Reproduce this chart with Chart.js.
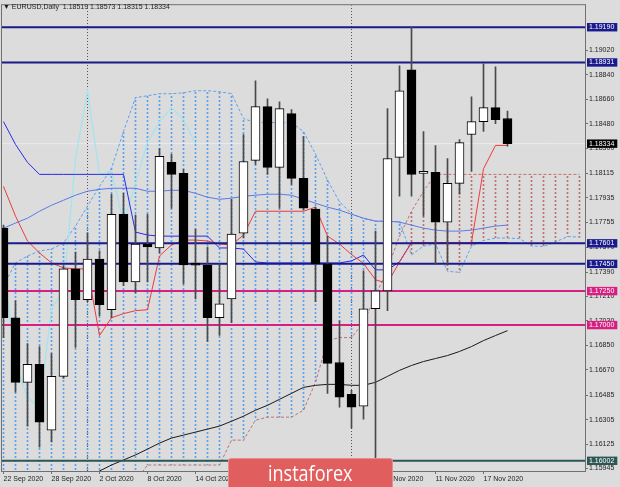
<!DOCTYPE html>
<html>
<head>
<meta charset="utf-8">
<script src="https://cdn.jsdelivr.net/npm/chart.js@4.4.0/dist/chart.umd.min.js"></script>
<style>
    html, body { margin: 0; padding: 0; background: #dcdcdc; }
    #wrap { position: relative; width: 620px; height: 487px; overflow: hidden; }
    #header {
        position: absolute; left: 3px; top: 3px;
        font: 7px "Liberation Sans", Arial, sans-serif; color: #1e1e1e;
        white-space: pre; line-height: 8px;
    }
    #banner {
        position: absolute; left: 228px; top: 458px; width: 165px; height: 34px;
        background: #e05e5e; border: 1px solid #eb8c8c; border-radius: 3px;
        box-sizing: border-box; color: #fff; text-align: center;
        font: 21px "Open Sans", sans-serif; line-height: 28px;
    }
    #banner span { display: inline-block; transform: scaleX(0.86); }
</style>
</head>
<body>
<div id="wrap">
    <canvas id="priceChart" width="620" height="487"></canvas>
    <div id="header">▼ EURUSD,Daily  1.18519 1.18573 1.18315 1.18334</div>
    <div id="banner"><span>instaforex</span></div>
</div>
<script>
// Daily bars, 22 Sep .. 19 Nov 2020 (index = bar number)
const dateTicks = [0, 4, 8, 12, 16, 20, 24, 28, 32, 36, 40];
const dateLabels = ['22 Sep 2020', '28 Sep 2020', '2 Oct 2020', '8 Oct 2020', '14 Oct 2020', '20 Oct 2020',
    '26 Oct 2020', '30 Oct 2020', '5 Nov 2020', '11 Nov 2020', '17 Nov 2020'];

const opens = [1.17713, 1.17054, 1.16579, 1.16711, 1.16228, 1.16623, 1.17413, 1.17186, 1.17486, 1.17113,
    1.17815, 1.17318, 1.17596, 1.17567, 1.18196, 1.18116, 1.17455, 1.17442, 1.17054, 1.17193,
    1.17676, 1.18211, 1.18606, 1.18159, 1.18555, 1.18079, 1.17852, 1.17450, 1.16725, 1.16491,
    1.16403, 1.17120, 1.17252, 1.18233, 1.18877, 1.18116, 1.18123, 1.17757, 1.18042, 1.18401,
    1.18496, 1.18599, 1.18519];
const highs = [1.17735, 1.17179, 1.16864, 1.16842, 1.16791, 1.17435, 1.17537, 1.17676, 1.17545, 1.17962,
    1.17969, 1.17808, 1.17815, 1.18298, 1.18255, 1.18145, 1.17706, 1.17574, 1.17450, 1.17925,
    1.18401, 1.18796, 1.18664, 1.18642, 1.18584, 1.18386, 1.17867, 1.17654, 1.17032, 1.16520,
    1.17398, 1.17691, 1.18591, 1.18906, 1.19191, 1.18423, 1.18320, 1.18225, 1.18364, 1.18679,
    1.18920, 1.18899, 1.18573];
const lows = [1.16908, 1.16506, 1.16257, 1.16103, 1.16140, 1.16608, 1.16835, 1.17172, 1.17069, 1.17054,
    1.17289, 1.17237, 1.17318, 1.17530, 1.17859, 1.17303, 1.17193, 1.16879, 1.16923, 1.17018,
    1.17640, 1.18181, 1.18108, 1.17859, 1.18035, 1.17845, 1.17172, 1.16498, 1.16396, 1.16242,
    1.16308, 1.16023, 1.17106, 1.17947, 1.17947, 1.17801, 1.17450, 1.17450, 1.17962, 1.18130,
    1.18423, 1.18481, 1.18315];
const closes = [1.17054, 1.16579, 1.16711, 1.16286, 1.16623, 1.17413, 1.17186, 1.17486, 1.17150, 1.17815,
    1.17318, 1.17596, 1.17574, 1.18240, 1.18108, 1.17442, 1.17440, 1.17054, 1.17157, 1.17669,
    1.18203, 1.18606, 1.18159, 1.18591, 1.18079, 1.17859, 1.17450, 1.16718, 1.16469, 1.16396,
    1.17120, 1.17252, 1.18225, 1.18723, 1.18108, 1.18130, 1.17757, 1.18042, 1.18342, 1.18496,
    1.18599, 1.18511, 1.18334];

// Ichimoku
const tenkan = [1.18020, 1.17801, 1.17618, 1.17530, 1.17457, 1.17420, 1.17413, 1.17413, 1.16923, 1.17054,
    1.17084, 1.17106, 1.17113, 1.17508, 1.17589, 1.17625, 1.17625, 1.17618, 1.17596, 1.17589,
    1.17662, 1.17837, 1.17837, 1.17837, 1.17837, 1.17837, 1.17867, 1.17654, 1.17596, 1.17519,
    1.17453, 1.17333, 1.17307, 1.17465, 1.17607, 1.17607, 1.17607, 1.17607, 1.17607, 1.17607,
    1.18149, 1.18321, 1.18321];
const kijun = [1.18496, 1.18328, 1.18196, 1.18108, 1.18108, 1.18108, 1.18108, 1.18108, 1.18108, 1.18108,
    1.18108, 1.17684, 1.17662, 1.17654, 1.17654, 1.17654, 1.17654, 1.17654, 1.17567, 1.17567,
    1.17559, 1.17464, 1.17457, 1.17457, 1.17457, 1.17457, 1.17457, 1.17457, 1.17457, 1.17472,
    1.17515, 1.17406, 1.17406, 1.17465, 1.17607, 1.17607, 1.17607, 1.17607, 1.17607, 1.17607,
    1.17607, 1.17607, 1.17607];
const chikou = [1.17450, 1.16718, 1.16469, 1.16396, 1.17120, 1.17252, 1.18225, 1.18723, 1.18108, 1.18130,
    1.17757, 1.18042, 1.18342, 1.18496, 1.18599, 1.18511, 1.18334];
const spanA = [1.17289, 1.17457, 1.17508, 1.17545, 1.17559, 1.17603, 1.17728, 1.17874, 1.18020, 1.18152,
    1.18423, 1.18672, 1.18686, 1.18701, 1.18701, 1.18708, 1.18723, 1.18723, 1.18716, 1.18701,
    1.18518, 1.18489, 1.18489, 1.18489, 1.18489, 1.18423, 1.18258, 1.18065, 1.17907, 1.17819,
    1.17783, 1.17764, 1.17761, 1.17761, 1.17516, 1.17581, 1.17596, 1.17395, 1.17388, 1.17581,
    1.17622, 1.17640, 1.17640, 1.17636, 1.17582, 1.17578, 1.17611, 1.17651, 1.17647];
const spanB = [1.15800, 1.15800, 1.15800, 1.15800, 1.15800, 1.15800, 1.15800, 1.15800, 1.15800, 1.15800,
    1.15800, 1.15850, 1.15971, 1.15971, 1.15971, 1.15971, 1.15971, 1.15971, 1.15971, 1.16154,
    1.16154, 1.16301, 1.16323, 1.16323, 1.16323, 1.16374, 1.16579, 1.16886, 1.16908, 1.16908,
    1.17018, 1.17215, 1.17413, 1.17654, 1.17837, 1.17984, 1.18108, 1.18108, 1.18108, 1.18108,
    1.18108, 1.18108, 1.18108, 1.18108, 1.18108, 1.18108, 1.18108, 1.18108, 1.18108];

// moving averages
const maBlue = [1.17713, 1.17750, 1.17786, 1.17837, 1.17881, 1.17918, 1.17955, 1.17984, 1.17998, 1.18006,
    1.18006, 1.18006, 1.17984, 1.17984, 1.17991, 1.17991, 1.17969, 1.17940, 1.17925, 1.17933,
    1.17947, 1.17955, 1.17962, 1.17962, 1.17955, 1.17925, 1.17896, 1.17867, 1.17845, 1.17815,
    1.17786, 1.17764, 1.17764, 1.17757, 1.17735, 1.17713, 1.17698, 1.17691, 1.17691, 1.17698,
    1.17713, 1.17728, 1.17735];
const maBlack = [null, null, null, null, null, null, null, 1.15850, 1.15927, 1.15971,
    1.16008, 1.16045, 1.16088, 1.16132, 1.16169, 1.16191, 1.16213, 1.16235, 1.16257, 1.16293,
    1.16330, 1.16374, 1.16410, 1.16454, 1.16498, 1.16542, 1.16557, 1.16564, 1.16564, 1.16557,
    1.16557, 1.16579, 1.16623, 1.16667, 1.16703, 1.16732, 1.16754, 1.16776, 1.16806, 1.16842,
    1.16886, 1.16923, 1.16959];

// price axis
const priceTicks = [1.19020, 1.18840, 1.18660, 1.18480, 1.18300, 1.18115, 1.17935, 1.17755, 1.17570, 1.17390,
    1.17210, 1.17030, 1.16850, 1.16670, 1.16485, 1.16305, 1.16125, 1.15945];
const levelsBlue = [1.19190, 1.18931, 1.17601, 1.17450];
const levelsPink = [1.17250, 1.17000];
const levelLow = 1.16002;
const lastPrice = 1.18334;
const monthBreaks = [7, 29];

const X_MIN = -0.125, X_MAX = 48.4583;
const Y_MIN = 1.15927, Y_MAX = 1.19352;

const NAVY = '#1a1a8c', PINK = '#d61f80', SLATE = '#2d5656';

const canvas = document.getElementById('priceChart');
const ctx = canvas.getContext('2d');

// dotted vertical fill for the kumo bars
function dotPattern(color) {
    const c = document.createElement('canvas');
    c.width = 1; c.height = 4;
    const g = c.getContext('2d');
    g.fillStyle = color;
    g.fillRect(0, 0, 1, 2);
    return ctx.createPattern(c, 'repeat');
}

const idx = opens.map((_, i) => i);
const pts = arr => arr.map((v, i) => ({ x: i, y: v })).filter(p => p.y !== null);
const hLine = v => [{ x: X_MIN, y: v }, { x: X_MAX, y: v }];
const vLine = k => [{ x: k, y: Y_MIN }, { x: k, y: Y_MAX }];

const kumoUp = [], kumoDown = [];
spanA.forEach((a, i) => {
    const b = spanB[i];
    if (a >= b) kumoUp.push({ x: i, y: [b, a] });
    else kumoDown.push({ x: i, y: [a, b] });
});

const line = (data, color, extra = {}) => Object.assign({
    type: 'line', data, borderColor: color, borderWidth: 1, pointRadius: 0, tension: 0, fill: false
}, extra);

const datasets = [
    // candles
    {
        type: 'bar', order: 0, clip: 0,
        data: idx.map(i => ({ x: i, y: [Math.min(opens[i], closes[i]), Math.max(opens[i], closes[i])] })),
        backgroundColor: idx.map(i => closes[i] >= opens[i] ? '#ffffff' : '#000000'),
        borderColor: '#000000', borderWidth: 1, borderSkipped: false, barThickness: 9
    },
    {
        type: 'bar', order: 1, clip: 0,
        data: idx.map(i => ({ x: i, y: [lows[i], highs[i]] })),
        backgroundColor: '#4a4a4a', barThickness: 1
    },
    // levels
    ...levelsBlue.map(v => line(hLine(v), NAVY, { borderWidth: 2, order: 2 })),
    ...levelsPink.map(v => line(hLine(v), PINK, { borderWidth: 2, order: 2 })),
    line(hLine(levelLow), SLATE, { borderWidth: 2, order: 2 }),
    // indicators
    line(pts(tenkan), '#f03a3a', { order: 3 }),
    line(pts(kijun), '#2a2ae6', { order: 3 }),
    line(pts(maBlue), '#5a7ae6', { order: 3 }),
    line(pts(maBlack), '#1a1a1a', { order: 3 }),
    line(pts(chikou), '#a4e4ee', { order: 4, borderWidth: 1.3 }),
    line(pts(spanA), '#5aa2ee', { order: 5, borderDash: [3, 2] }),
    line(pts(spanB), '#c07070', { order: 5, borderDash: [3, 2] }),
    { type: 'bar', order: 6, clip: 0, data: kumoUp, backgroundColor: dotPattern('#5aa2ee'), barThickness: 1 },
    { type: 'bar', order: 6, clip: 0, data: kumoDown, backgroundColor: dotPattern('#c07070'), barThickness: 1 },
    ...monthBreaks.map(k => line(vLine(k), '#555555', { order: 7, borderDash: [1, 2] })),
    line(hLine(lastPrice), '#e9ebf2', { order: 8 })
];

const isIn = (list, v) => list.some(l => Math.abs(l - v) < 1e-7);
const boxColor = v => {
    if (isIn(levelsBlue, v)) return NAVY;
    if (isIn(levelsPink, v)) return PINK;
    if (Math.abs(v - levelLow) < 1e-7) return SLATE;
    if (Math.abs(v - lastPrice) < 1e-7) return '#000000';
    return null;
};

const frame = {
    id: 'frame',
    afterDatasetsDraw(chart) {
        const { ctx, chartArea: a } = chart;
        ctx.save();
        ctx.strokeStyle = '#707070';
        ctx.lineWidth = 1;
        ctx.strokeRect(a.left - 0.5, a.top - 0.5, a.right - a.left + 1, a.bottom - a.top + 1);
        ctx.restore();
    }
};

const font = { family: '"Liberation Sans", Arial, sans-serif', size: 7 };

new Chart(ctx, {
    type: 'bar',
    data: { datasets },
    options: {
        responsive: false,
        animation: false,
        events: [],
        layout: { padding: { left: 2, top: 3, right: 0, bottom: 0 } },
        plugins: { legend: { display: false }, tooltip: { enabled: false } },
        datasets: { bar: { grouped: false } },
        scales: {
            x: {
                type: 'linear', min: X_MIN, max: X_MAX, offset: false,
                afterBuildTicks: s => { s.ticks = dateTicks.map(v => ({ value: v })); },
                afterFit: s => { s.height = 16; },
                ticks: {
                    autoSkip: false, maxRotation: 0, align: 'start', padding: 1, color: '#1e1e1e', font,
                    callback: v => dateLabels[dateTicks.indexOf(v)]
                },
                grid: { drawOnChartArea: false, offset: false, tickLength: 3, color: '#707070' },
                border: { display: false }
            },
            y: {
                type: 'linear', position: 'right', min: Y_MIN, max: Y_MAX,
                afterBuildTicks: s => {
                    s.ticks = [...priceTicks, ...levelsBlue, ...levelsPink, levelLow, lastPrice].map(v => ({ value: v }));
                },
                afterFit: s => { s.width = 35; },
                ticks: {
                    autoSkip: false, padding: 1, font,
                    color: c => boxColor(c.tick.value) ? '#ffffff' : '#1e1e1e',
                    showLabelBackdrop: true,
                    backdropColor: c => boxColor(c.tick.value) || 'rgba(0,0,0,0)',
                    backdropPadding: { top: 0, bottom: 0, left: 2, right: 3 },
                    callback: v => v.toFixed(5)
                },
                grid: {
                    drawOnChartArea: false, tickLength: 3,
                    color: c => boxColor(c.tick.value) ? 'rgba(0,0,0,0)' : '#707070'
                },
                border: { display: false }
            }
        }
    },
    plugins: [frame]
});
</script>
</body>
</html>
